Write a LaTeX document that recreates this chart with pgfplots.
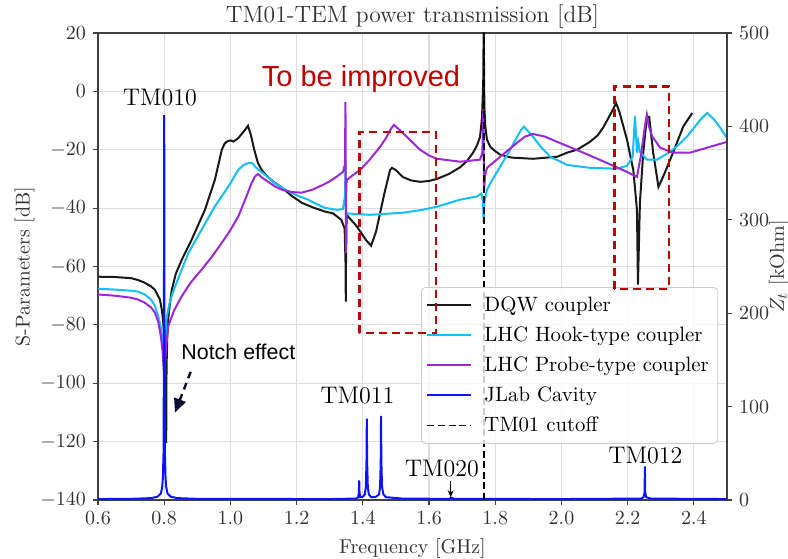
\documentclass[border=0pt]{standalone}
\usepackage{fontspec}
\newfontfamily\arial{Liberation Sans}
\usepackage{pgfplots}
\pgfplotsset{compat=1.18}
\usetikzlibrary{calc,arrows.meta}

\definecolor{dqw}{RGB}{25,25,25}
\definecolor{hook}{RGB}{20,190,250}
\definecolor{probe}{RGB}{155,40,215}
\definecolor{jlab}{RGB}{10,20,255}
\definecolor{annot}{RGB}{192,0,0}
\definecolor{navy}{RGB}{10,10,50}

\pgfplotsset{
  base/.style={
    scale only axis, width=314.5pt, height=233.5pt,
    xmin=0.6, xmax=2.5,
    tick align=outside, major tick length=2.5pt,
    axis line style={black!75, line width=0.6pt},
    tick style={black!75, line width=0.6pt},
    tick label style={font=\fontsize{10}{12}\selectfont, text=black!80},
    label style={font=\fontsize{10}{12}\selectfont, text=black!80},
  },
}

\begin{document}
\begin{tikzpicture}
\begin{axis}[base, name=main,
    ymin=-140, ymax=20, ytick distance=20,
    xtick={0.6,0.8,1.0,1.2,1.4,1.6,1.8,2.0,2.2,2.4},
    xtick pos=bottom, ytick pos=left,
    xticklabel style={/pgf/number format/.cd, fixed, fixed zerofill, precision=1},
    grid=major, grid style={black!13, line width=0.6pt},
    title={TM01-TEM power transmission [dB]},
    title style={font=\fontsize{11.8}{13}\selectfont, text=black!80, yshift=-7pt},
    xlabel={Frequency [GHz]},
    ylabel={S-Parameters [dB]},
    ylabel shift=-4pt,
  ]
% DQW coupler
\addplot[dqw, line width=1pt] coordinates {
(0.600,-63.5) (0.650,-63.6) (0.700,-64.0) (0.720,-64.6) (0.740,-65.5) (0.760,-66.8)
(0.772,-68.0) (0.787,-71.3) (0.793,-75) (0.797,-79) (0.800,-84) (0.803,-92) (0.805,-100)
(0.806,-120.5) (0.807,-95) (0.809,-85) (0.812,-78) (0.818,-72) (0.823,-68) (0.835,-62.5)
(0.853,-57.7) (0.883,-50.8) (0.923,-40.6) (0.953,-30.3) (0.966,-24) (0.974,-20) (0.982,-18)
(0.989,-17.2) (1.000,-16.8) (1.009,-17.2) (1.024,-16) (1.044,-13.2) (1.053,-11.8) (1.062,-15)
(1.072,-20) (1.083,-24.5) (1.095,-27) (1.110,-29) (1.130,-31) (1.156,-33) (1.185,-35.8)
(1.216,-38.2) (1.250,-39.8) (1.286,-41.2) (1.310,-41.8)
(1.335,-44) (1.345,-47) (1.348,-60) (1.3485,-72) (1.349,-60) (1.351,-42.3) (1.380,-46)
(1.410,-51) (1.425,-52.9) (1.440,-48) (1.465,-35) (1.482,-27) (1.488,-26.2) (1.500,-27)
(1.520,-29.3) (1.545,-30.5) (1.573,-31) (1.600,-30.7) (1.624,-30) (1.660,-28.3) (1.694,-26)
(1.715,-23.8) (1.733,-21) (1.745,-18.5) (1.754,-15.6) (1.760,-9)
(1.764,5) (1.765,25) (1.767,-5) (1.770,-12) (1.775,-16.6) (1.785,-19) (1.800,-20.5) (1.815,-21.7)
(1.850,-22.7) (1.914,-23.1) (1.987,-22.4) (2.017,-21) (2.047,-20) (2.086,-17.3)
(2.110,-15) (2.127,-12.2) (2.152,-7) (2.165,-4) (2.175,-7) (2.198,-16.6) (2.217,-27) (2.228,-40.5)
(2.231,-66.2) (2.237,-38) (2.247,-21) (2.258,-8.7) (2.265,-8.7) (2.277,-21) (2.293,-32.7)
(2.307,-29.3) (2.337,-21) (2.368,-12) (2.395,-7.4)
};
% LHC Hook-type coupler
\addplot[hook, line width=1pt] coordinates {
(0.600,-67.6) (0.650,-67.9) (0.700,-68.3) (0.720,-68.6) (0.740,-69.5) (0.760,-71.3)
(0.772,-73.5) (0.782,-77) (0.790,-81) (0.795,-85) (0.799,-92) (0.801,-95) (0.803,-88)
(0.807,-78) (0.815,-73) (0.823,-70) (0.833,-66.8) (0.848,-62.5) (0.873,-55.4)
(0.913,-47.4) (0.953,-39.4) (0.994,-32.6) (1.010,-29.5) (1.024,-26.9) (1.040,-25.2)
(1.054,-24.6) (1.065,-24.5) (1.074,-25.7) (1.088,-27.2) (1.105,-28.6) (1.135,-31.5)
(1.165,-33.7) (1.200,-35.6) (1.235,-37.1) (1.260,-38.6) (1.286,-39.9) (1.322,-40.6)
(1.340,-40.3) (1.346,-36) (1.348,-24) (1.349,-44) (1.351,-41.8) (1.420,-42.3)
(1.520,-41.6) (1.580,-40.6) (1.624,-39.5) (1.694,-37.1) (1.745,-36) (1.758,-35) (1.763,-38)
(1.765,-45) (1.767,-38) (1.775,-33.7) (1.790,-30.5) (1.815,-25.8) (1.840,-21)
(1.866,-15.6) (1.878,-13.2) (1.887,-12.1)
(1.914,-15.6) (1.940,-19.3) (1.966,-22.4) (2.017,-25.2) (2.086,-26.2) (2.168,-26.5) (2.198,-25.5)
(2.215,-22.5) (2.222,-8.4) (2.228,-21) (2.232,-17.3) (2.237,-20.7) (2.258,-23.4)
(2.289,-23.4) (2.328,-20.7) (2.355,-18.2) (2.380,-15.4) (2.419,-9.8) (2.440,-7.4) (2.460,-9.5)
(2.480,-12.5) (2.500,-16)
};
% LHC Probe-type coupler
\addplot[probe, line width=1pt] coordinates {
(0.600,-69.6) (0.650,-70) (0.700,-70.7) (0.720,-71.3) (0.740,-72.3) (0.760,-74)
(0.772,-75.8) (0.782,-79) (0.790,-84) (0.795,-89) (0.799,-96) (0.801,-97) (0.803,-92)
(0.807,-86) (0.812,-80.5) (0.830,-75) (0.853,-70.2) (0.880,-65.5) (0.913,-61.1)
(0.945,-56.5) (0.974,-51.9) (1.000,-47.5) (1.024,-42.8) (1.050,-35.5) (1.064,-31.4)
(1.074,-29.2) (1.083,-28.3) (1.095,-29.5) (1.114,-31) (1.135,-32.6) (1.156,-33.7)
(1.185,-34.5) (1.216,-34.7) (1.250,-33.6) (1.280,-32) (1.300,-30.8) (1.320,-29.3)
(1.340,-27.6) (1.346,-25) (1.3475,-3.6) (1.349,-55.3)
(1.350,-32) (1.352,-30.3) (1.370,-28.7) (1.392,-26.9) (1.420,-23.5) (1.452,-19) (1.470,-16)
(1.485,-12.8) (1.494,-11.5)
(1.507,-12.8) (1.533,-15.6) (1.573,-20) (1.600,-22) (1.624,-23.1) (1.694,-24.1) (1.754,-23.4)
(1.761,-21) (1.764,-6.3) (1.766,-34.7) (1.769,-29) (1.775,-26.2) (1.815,-22.4)
(1.866,-17.6) (1.890,-15.5) (1.914,-14.6) (1.950,-15.5) (1.987,-17.3) (2.066,-21) (2.137,-24.5) (2.198,-27.6)
(2.228,-29.3) (2.240,-22) (2.252,-12) (2.258,-8) (2.264,-12) (2.274,-15.4) (2.298,-19.3)
(2.337,-21) (2.389,-21) (2.419,-20) (2.500,-17.3)
};
\end{axis}

\begin{axis}[base, at={(main.south west)}, anchor=south west,
    ymin=0, ymax=500, ytick distance=100,
    axis y line*=right, axis x line=none,
    ylabel={$Z_t$ [kOhm]},
    ylabel shift=-7pt,
    legend cell align=left,
    legend image code/.code={\draw[#1] (0pt,0pt) -- (22pt,0pt); \path (26pt,0pt);},
    legend style={at={(0.986,0.456)}, anchor=north east,
      fill=white, fill opacity=0.8, text opacity=1, draw=black!20,
      rounded corners=2pt, font=\fontsize{10.4}{12}\selectfont,
      row sep=2.2pt, inner sep=2.5pt},
  ]
\addlegendimage{dqw, line width=1pt}
\addlegendentry{DQW coupler}
\addlegendimage{hook, line width=1pt}
\addlegendentry{LHC Hook-type coupler}
\addlegendimage{probe, line width=1pt}
\addlegendentry{LHC Probe-type coupler}
% JLab cavity impedance
\addplot[jlab, line width=1pt] coordinates {
(0.600,1) (0.700,1.2) (0.760,2) (0.780,3.5) (0.790,7) (0.794,14) (0.796,24) (0.798,51)
(0.799,148) (0.7995,285) (0.800,412) (0.8005,285) (0.801,148) (0.802,51) (0.804,24)
(0.806,14) (0.810,7) (0.820,3.5) (0.840,2) (0.900,1.2) (1.300,1) (1.380,1.5) (1.386,3)
(1.388,8) (1.389,21) (1.390,8) (1.392,3) (1.400,3.5) (1.406,6) (1.409,14) (1.411,40)
(1.412,87) (1.413,40) (1.415,14) (1.418,6) (1.425,3) (1.440,3.5) (1.449,6) (1.452,14)
(1.454,40) (1.455,90) (1.456,40) (1.458,14) (1.462,6) (1.470,3) (1.520,1.5) (1.660,1.2)
(1.668,2.5) (1.675,1.2) (2.000,1) (2.240,1.5) (2.248,3) (2.251,8) (2.252,36) (2.253,8)
(2.256,3) (2.270,1.5) (2.500,1)
};
\addlegendentry{JLab Cavity}
\addplot[black, line width=0.9pt, dash pattern=on 3.5pt off 1.8pt] coordinates {(1.765,0) (1.765,500)};
\addlegendentry{TM01 cutoff}

\node[font=\fontsize{12}{14}\selectfont] at (rel axis cs:0.0986,0.8608) {TM010};
\node[font=\fontsize{12}{14}\selectfont] at (rel axis cs:0.4126,0.2227) {TM011};
\node[font=\fontsize{12}{14}\selectfont] at (rel axis cs:0.5469,0.0664) {TM020};
\node[font=\fontsize{12}{14}\selectfont] at (rel axis cs:0.8704,0.0942) {TM012};
\draw[-{Stealth[length=3.5pt,width=3pt]}, black, line width=0.5pt]
  (rel axis cs:0.5607,0.040) -- (rel axis cs:0.5607,0.006);

\coordinate (b1a) at (axis cs:1.389,178.8);
\coordinate (b1b) at (axis cs:1.621,394);
\coordinate (b2a) at (axis cs:2.159,226);
\coordinate (b2b) at (axis cs:2.325,443);
\coordinate (imp) at (rel axis cs:0.4181,0.8844);
\coordinate (notch) at (rel axis cs:0.2231,0.2998);
\coordinate (ar1) at (rel axis cs:0.1474,0.2747);
\coordinate (ar2) at (rel axis cs:0.1224,0.1869);
\end{axis}

\draw[annot, line width=1.4pt, dash pattern=on 4pt off 2.6pt] (b1a) rectangle (b1b);
\draw[annot, line width=1.4pt, dash pattern=on 4pt off 2.6pt] (b2a) rectangle (b2b);
\node[anchor=base, text=annot, font=\arial\fontsize{14.5}{17}\selectfont] at (imp) {To be improved};
\node[anchor=base, text=black, font=\arial\fontsize{10.7}{13}\selectfont] at (notch) {Notch effect};
\draw[navy, line width=1.2pt, dash pattern=on 3.5pt off 2.5pt, -{Triangle[length=7pt,width=6pt]}] (ar1) -- (ar2);

\pgfresetboundingbox
\path[use as bounding box] ($(main.south west)+(-49pt,-29.5pt)$) rectangle ($(main.north east)+(30.5pt,16.5pt)$);
\end{tikzpicture}
\end{document}
